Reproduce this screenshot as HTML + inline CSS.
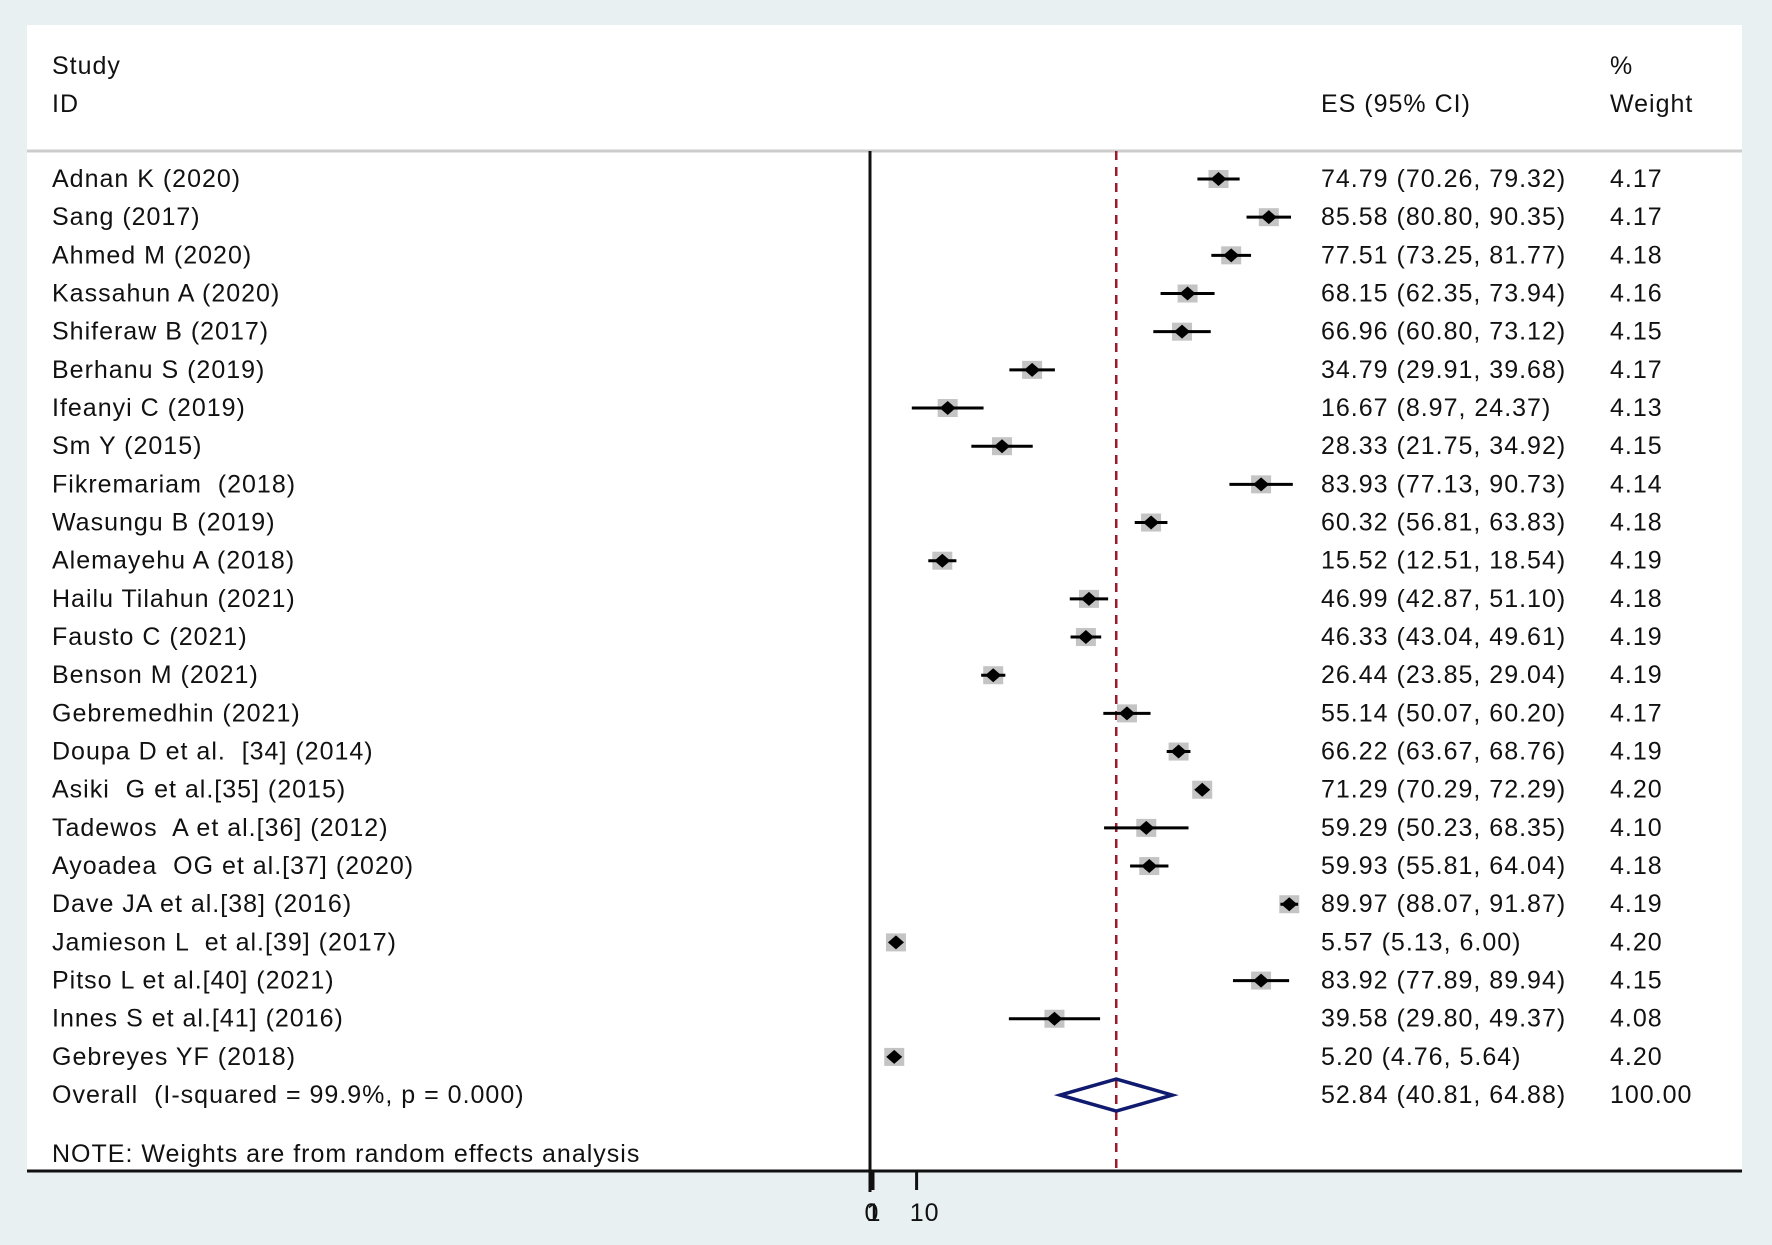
<!DOCTYPE html>
<html><head><meta charset="utf-8">
<style>
html,body{margin:0;padding:0;}
body{width:1772px;height:1245px;background:#e8f0f2;position:relative;overflow:hidden;font-family:"Liberation Sans",sans-serif;}
svg{position:absolute;left:0;top:0;}
text{font-family:"Liberation Sans",sans-serif;font-size:25px;letter-spacing:1px;fill:#111;white-space:pre;}
</style></head>
<body>
<svg id="chart" width="1772" height="1245">
  <rect x="27" y="25" width="1715" height="1146" fill="#fff"/>
  <line x1="27" y1="151" x2="1742" y2="151" stroke="#ccc" stroke-width="3"/>
  <text x="52" y="74">Study</text>
  <text x="52" y="112">ID</text>
  <text x="1321" y="112">ES (95% CI)</text>
  <text x="1610" y="74">%</text>
  <text x="1610" y="112">Weight</text>
  <g id="marks"></g>
  <text x="52" y="1162">NOTE: Weights are from random effects analysis</text>
</svg>
<script>
const studies=["Adnan K (2020)","Sang (2017)","Ahmed M (2020)","Kassahun A (2020)","Shiferaw B (2017)","Berhanu S (2019)","Ifeanyi C (2019)","Sm Y (2015)","Fikremariam  (2018)","Wasungu B (2019)","Alemayehu A (2018)","Hailu Tilahun (2021)","Fausto C (2021)","Benson M (2021)","Gebremedhin (2021)","Doupa D et al.  [34] (2014)","Asiki  G et al.[35] (2015)","Tadewos  A et al.[36] (2012)","Ayoadea  OG et al.[37] (2020)","Dave JA et al.[38] (2016)","Jamieson L  et al.[39] (2017)","Pitso L et al.[40] (2021)","Innes S et al.[41] (2016)","Gebreyes YF (2018)"];
const es=[74.79,85.58,77.51,68.15,66.96,34.79,16.67,28.33,83.93,60.32,15.52,46.99,46.33,26.44,55.14,66.22,71.29,59.29,59.93,89.97,5.57,83.92,39.58,5.20];
const lo=[70.26,80.80,73.25,62.35,60.80,29.91,8.97,21.75,77.13,56.81,12.51,42.87,43.04,23.85,50.07,63.67,70.29,50.23,55.81,88.07,5.13,77.89,29.80,4.76];
const hi=[79.32,90.35,81.77,73.94,73.12,39.68,24.37,34.92,90.73,63.83,18.54,51.10,49.61,29.04,60.20,68.76,72.29,68.35,64.04,91.87,6.00,89.94,49.37,5.64];
const weights=["4.17","4.17","4.18","4.16","4.15","4.17","4.13","4.15","4.14","4.18","4.19","4.18","4.19","4.19","4.17","4.19","4.20","4.10","4.18","4.19","4.20","4.15","4.08","4.20"];
const overall=[52.84,40.81,64.88];
const overallLabel="Overall  (I-squared = 99.9%, p = 0.000)";
const overallWeight="100.00";
const ticks=[0,10];

const NS="http://www.w3.org/2000/svg";
const g=document.getElementById('marks');
const X=v=>870+v*4.66;
const Y=i=>179+i*38.17;
function mk(t,a){const e=document.createElementNS(NS,t);for(const k in a)e.setAttribute(k,a[k]);g.appendChild(e);return e;}
const f=v=>v.toFixed(2);

const yTop=151,yBot=1171;
let e;
e=mk('line',{x1:870,y1:yTop,x2:870,y2:1192,stroke:'#111','stroke-width':3});


e=mk('line',{x1:X(overall[0]),y1:yTop,x2:X(overall[0]),y2:yBot,stroke:'#9b1b2b','stroke-width':2.5,'stroke-dasharray':'9,7'});


e=mk('line',{x1:27,y1:yBot,x2:1742,y2:yBot,stroke:'#111','stroke-width':3});


ticks.forEach(t=>{
  e=mk('line',{x1:X(t)+(t===0?3:0),y1:yBot,x2:X(t)+(t===0?3:0),y2:1190,stroke:'#111','stroke-width':3});
  
  
  e=mk('text',{x:X(t)+(t===0?2:8),y:1221,'text-anchor':'middle','font-size':'22px'});
  e.textContent=String(t);
  
  
});
e=mk('text',{x:X(0)+4,y:1221,'text-anchor':'middle','font-size':'22px'});e.textContent='1';



studies.forEach((s,i)=>{
  const y=Y(i);
  e=mk('text',{x:52,y:y+8});e.textContent=s;
  
  
  e=mk('text',{x:1321,y:y+8});e.textContent=f(es[i])+' ('+f(lo[i])+', '+f(hi[i])+')';
  
  
  e=mk('text',{x:1610,y:y+8});e.textContent=weights[i];
  
  
  const cx=X(es[i]);
  e=mk('rect',{x:cx-10,y:y-9,width:20,height:18,fill:'#c4c4c4'});
  
  
  e=mk('line',{x1:X(lo[i]),y1:y,x2:X(hi[i]),y2:y,stroke:'#000','stroke-width':3});
  
  
  e=mk('polygon',{points:`${cx-8},${y} ${cx},${y-7} ${cx+8},${y} ${cx},${y+7}`,fill:'#000'});
  
  
});
const oy=Y(studies.length);
e=mk('text',{x:52,y:oy+8});e.textContent=overallLabel;


e=mk('text',{x:1321,y:oy+8});e.textContent=f(overall[0])+' ('+f(overall[1])+', '+f(overall[2])+')';


e=mk('text',{x:1610,y:oy+8});e.textContent=overallWeight;


e=mk('polygon',{points:`${X(overall[1])},${oy} ${X(overall[0])},${oy-16} ${X(overall[2])},${oy} ${X(overall[0])},${oy+16}`,fill:'none',stroke:'#101a6e','stroke-width':3.5});


</script>
</body></html>
